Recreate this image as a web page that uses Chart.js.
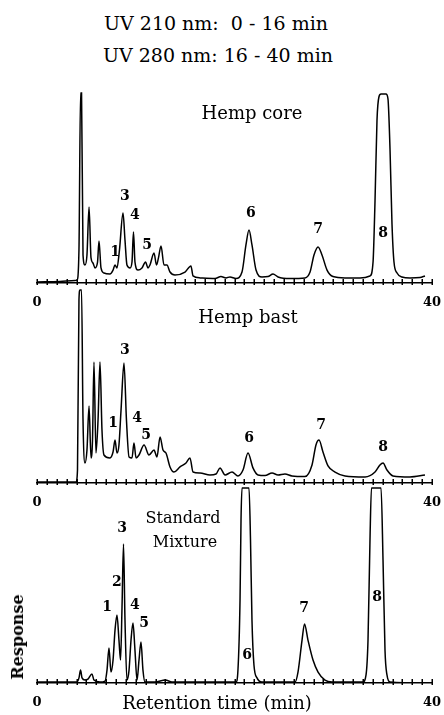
<!DOCTYPE html>
<html>
<head>
<meta charset="utf-8">
<script src="https://cdn.jsdelivr.net/npm/chart.js@4.4.1/dist/chart.umd.min.js"></script>
<style>
  body { margin: 0; background: #fff; }
  #wrap { position: relative; width: 444px; height: 715px; overflow: hidden; font-family: 'DejaVu Serif', serif; color: #000; }
  canvas.panel { position: absolute; left: 0; }
  .txt { position: absolute; white-space: pre; transform: translate(-50%, -50%); line-height: 1; }
</style>
</head>
<body>
<div id="wrap">
  <canvas id="core" class="panel" width="444" height="228" style="top:85px"></canvas>
  <canvas id="bast" class="panel" width="444" height="228" style="top:285px"></canvas>
  <canvas id="mix" class="panel" width="444" height="228" style="top:485px"></canvas>

  <div class="txt" style="left:216px;top:23px;font-size:19px">UV 210 nm:  0 - 16 min</div>
  <div class="txt" style="left:218px;top:55px;font-size:19px">UV 280 nm: 16 - 40 min</div>
  <div class="txt" style="left:252px;top:113px;font-size:18px">Hemp core</div>
  <div class="txt" style="left:248px;top:317px;font-size:18px">Hemp bast</div>
  <div class="txt" style="left:183px;top:518px;font-size:16px">Standard</div>
  <div class="txt" style="left:185px;top:542px;font-size:16px">Mixture</div>
  <div class="txt" style="left:217px;top:703px;font-size:18px">Retention time (min)</div>
  <div class="txt" style="left:18px;top:637px;font-size:16px;font-weight:bold;transform:translate(-50%,-50%) rotate(-90deg)">Response</div>
</div>

<script>
// retention time (min) / response (% of full scale) for each trace
const coreTime = [0, 2.33, 3.85, 4.05, 4.25, 4.41, 4.51, 4.66, 4.86, 5.06, 5.27, 5.47, 5.67, 5.87, 6.13, 6.28, 6.48, 6.78, 7.39, 7.70,
  7.90, 8.10, 8.35, 8.71, 8.91, 9.11, 9.42, 9.62, 9.77, 9.92, 10.23, 10.63, 10.99, 11.24, 11.44, 11.85, 12.10, 12.30, 12.56, 12.86,
  13.16, 13.47, 13.97, 14.99, 15.59, 15.80, 16.51, 18.03, 18.63, 19.14, 19.54, 20.15, 20.76, 21.16, 21.47, 21.77, 22.18, 22.78, 23.39, 23.90,
  24.41, 25.62, 27.14, 27.65, 28.05, 28.46, 28.86, 29.37, 29.97, 31.19, 32.71, 33.72, 34.03, 34.23, 34.43, 34.63, 34.84, 35.34, 35.54, 35.75,
  35.95, 36.15, 36.46, 36.96, 37.77, 38.78, 39.29];
const coreResp = [0.5, 0.8, 1.3, 1.5, 17, 97, 97, 14.3, 9.2, 14.3, 38.8, 12.8, 10.2, 7.7, 10.7, 21.4, 7.7, 5.1, 4.6, 6.6,
  9.2, 7.7, 16.8, 35.7, 21.9, 9.2, 7.7, 10.7, 26, 10.7, 6.6, 7.7, 10.7, 7.7, 9.2, 15.3, 9.2, 12.8, 18.9, 9.2,
  9.2, 5.6, 4.1, 5.6, 8.7, 3.6, 2.6, 2.3, 3.3, 2.6, 3.1, 2.3, 5.6, 19.4, 27, 19.4, 6.6, 3.1, 3.3, 4.6,
  3.1, 2.3, 2.6, 5.6, 14.3, 18.4, 14.3, 6.6, 3.3, 2.6, 2.6, 3.6, 10.7, 42, 83, 95, 96.4, 96.4, 94, 68,
  30, 10.7, 5.1, 3.1, 2.6, 2.8, 3.6];

const bastTime = [0, 3.95, 4.10, 4.25, 4.35, 4.51, 4.66, 4.86, 5.06, 5.27, 5.47, 5.62, 5.77, 5.97, 6.18, 6.38, 6.58, 6.78, 7.39, 7.70,
  7.90, 8.10, 8.30, 8.51, 8.81, 9.06, 9.32, 9.62, 9.82, 10.03, 10.33, 10.84, 11.34, 11.85, 12.15, 12.46, 12.76, 13.06, 13.47, 13.87,
  14.48, 15.09, 15.49, 15.80, 16.51, 17.52, 18.13, 18.53, 19.04, 19.75, 20.35, 20.86, 21.37, 21.87, 22.38, 23.09, 23.80, 24.41, 25.11, 25.82,
  27.14, 27.85, 28.25, 28.56, 28.96, 29.47, 30.18, 31.19, 33.22, 34.23, 34.73, 35.04, 35.44, 36.05, 37.77, 39.29];
const bastResp = [0.5, 0.5, 6.6, 93.4, 98.5, 98.5, 32, 10.2, 16.8, 39.3, 12.8, 21.9, 61.7, 15.3, 32, 61.7, 27, 14.3, 12.8, 15.8,
  21.9, 15.3, 19.4, 37.2, 61.2, 32, 13.3, 12.8, 20.4, 12.8, 14.3, 19.4, 14.3, 16.8, 13.3, 23.5, 16.8, 15.3, 8.2, 5.6,
  8.2, 10.2, 12.8, 5.6, 5.1, 4.1, 4.6, 7.7, 4.1, 5.6, 3.6, 6.6, 15.3, 7.7, 4.1, 3.8, 5.1, 4.1, 4.6, 3.6,
  3.3, 9.2, 19.4, 21.9, 15.8, 8.7, 5.6, 3.6, 3.1, 5.6, 9.2, 10.2, 6.6, 3.6, 3.1, 4.1];

const mixTime = [0, 4.05, 4.25, 4.41, 4.56, 4.86, 5.16, 5.57, 5.77, 6.38, 6.89, 7.09, 7.29, 7.49, 7.70, 7.90, 8.10, 8.30, 8.46, 8.61,
  8.76, 8.91, 9.11, 9.32, 9.52, 9.72, 9.92, 10.13, 10.33, 10.53, 10.73, 10.94, 11.95, 13.00, 13.67, 20.15, 20.35, 20.56, 20.66, 20.76,
  21.47, 21.62, 21.77, 21.97, 22.28, 22.78, 26.13, 26.43, 26.84, 27.09, 27.44, 27.95, 28.46, 29.16, 29.87, 33.01, 33.32, 33.52, 33.72, 33.87,
  34.84, 35.04, 35.24, 35.44, 35.75, 39.29];
const mixResp = [0.5, 0.5, 2.6, 6.6, 2.6, 1.5, 2.0, 4.6, 1.5, 0.5, 1.0, 6.6, 17.9, 5.6, 11.7, 27, 34.7, 21.9, 11.7, 38.8,
  70.9, 32.1, 1.5, 6.6, 21.9, 30.6, 16.8, 1.5, 11.7, 20.9, 6.6, 0.5, 0.5, 1.5, 0.5, 0.5, 6.6, 42.3, 83.2, 99.5,
  99.5, 73, 32, 9.2, 2.6, 0.5, 0.5, 5.6, 21.9, 30.1, 21.9, 11.7, 5.6, 1.5, 0.5, 0.5, 4.1, 21.9, 73, 99.5,
  99.5, 62.8, 16.8, 4.1, 0.5, 0];

// peak numbers and where each number sits (time, response)
const corePeakNo = ['1', '3', '4', '5', '6', '7', '8'];
const corePeakT = [7.90, 8.91, 9.92, 11.14, 21.67, 28.46, 35.04];
const corePeakR = [15.8, 44.4, 34.7, 19.4, 35.7, 27.6, 25.5];

const bastPeakNo = ['1', '3', '4', '5', '6', '7', '8'];
const bastPeakT = [7.70, 8.91, 10.13, 11.04, 21.47, 28.76, 35.04];
const bastPeakR = [30.6, 67.9, 33.2, 24.5, 23.0, 29.6, 18.4];

const mixPeakNo = ['1', '2', '3', '4', '5', '6', '7', '8'];
const mixPeakT = [7.09, 8.10, 8.61, 9.92, 10.84, 21.27, 27.04, 34.43];
const mixPeakR = [38.8, 51.5, 79.1, 39.8, 30.6, 14.3, 38.3, 43.9];

const xLabelled = [0, 40];
const minorStep = 1; // one tick per minute

const peakLabels = {
  id: 'peakLabels',
  afterDatasetsDraw(chart, args, opts) {
    const ctx = chart.ctx;
    const x = chart.scales.x, y = chart.scales.y;
    ctx.save();
    ctx.font = 'bold 14px "DejaVu Serif"';
    ctx.fillStyle = '#000';
    ctx.textAlign = 'center';
    ctx.textBaseline = 'middle';
    opts.names.forEach((n, i) => {
      ctx.fillText(n, x.getPixelForValue(opts.times[i]), y.getPixelForValue(opts.resp[i]));
    });
    ctx.restore();
  },
  afterDraw(chart) {
    // minute ticks stand up from the time axis instead of hanging below it
    const ctx = chart.ctx;
    const x = chart.scales.x;
    const base = chart.chartArea.bottom;
    ctx.save();
    ctx.fillStyle = '#000';
    for (let m = 0; m <= 40; m += minorStep) {
      const px = Math.round(x.getPixelForValue(m));
      ctx.fillRect(px - 0.5, base - 4, 1.5, 6);
    }
    ctx.restore();
  }
};

function makePanel(id, times, resp, names, pt, pr) {
  const pts = times.map((t, i) => ({ x: t, y: resp[i] }));
  return new Chart(document.getElementById(id), {
    type: 'line',
    data: {
      datasets: [{
        data: pts,
        borderColor: '#000',
        borderWidth: 1.5,
        pointRadius: 0,
        fill: false,
        cubicInterpolationMode: 'monotone'
      }]
    },
    options: {
      responsive: false,
      animation: false,
      events: [],
      layout: { padding: { left: 37, right: 12, top: 2, bottom: 0 } },
      plugins: {
        legend: { display: false },
        tooltip: { enabled: false },
        peakLabels: { names: names, times: pt, resp: pr }
      },
      scales: {
        x: {
          type: 'linear',
          min: 0,
          max: 40,
          // fixed axis band, and no extra room reserved for the end labels
          afterFit: s => { s.height = 30; s.paddingLeft = 0; s.paddingRight = 0; },
          border: { color: '#000', width: 1.5 },
          grid: { drawOnChartArea: false, drawTicks: false },
          ticks: {
            stepSize: 1,
            maxTicksLimit: 50,
            autoSkip: false,
            maxRotation: 0,
            padding: 12,
            color: '#000',
            font: { family: 'DejaVu Serif', size: 13, weight: 'bold' },
            callback: v => xLabelled.includes(v) ? String(v) : ''
          }
        },
        y: { display: false, min: 0, max: 100 }
      }
    },
    plugins: [peakLabels]
  });
}

makePanel('core', coreTime, coreResp, corePeakNo, corePeakT, corePeakR);
makePanel('bast', bastTime, bastResp, bastPeakNo, bastPeakT, bastPeakR);
makePanel('mix', mixTime, mixResp, mixPeakNo, mixPeakT, mixPeakR);
</script>
</body>
</html>
